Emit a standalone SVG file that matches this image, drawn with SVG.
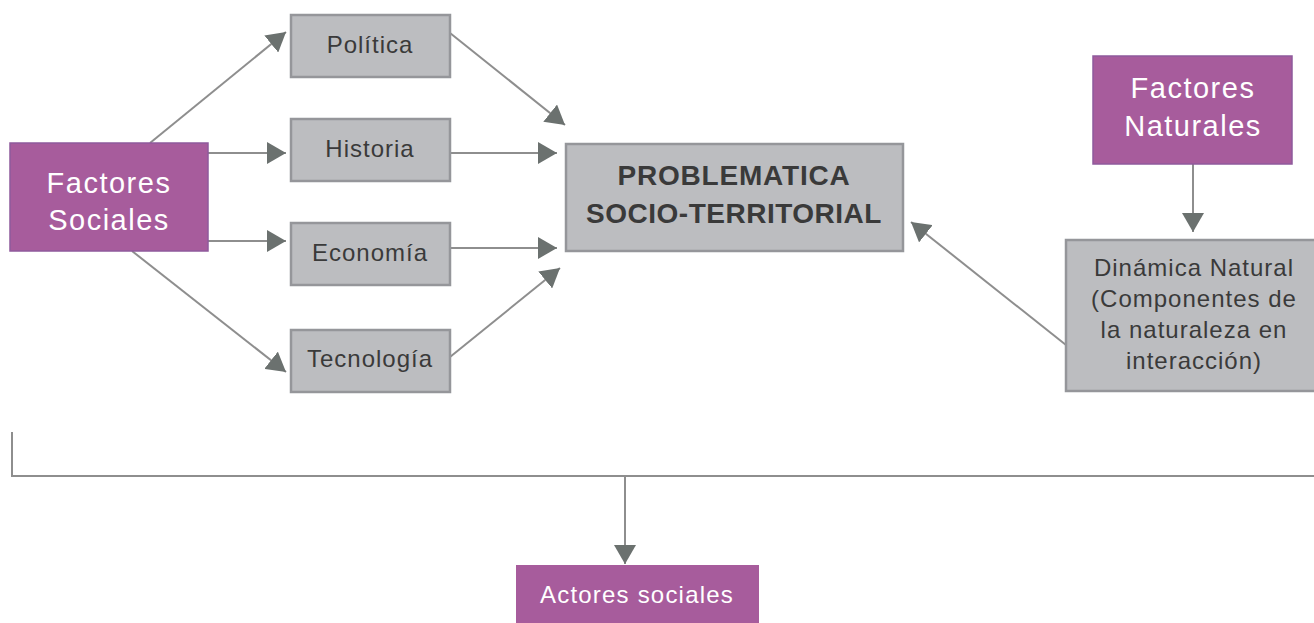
<svg xmlns="http://www.w3.org/2000/svg" width="1314" height="623" viewBox="0 0 1314 623">
<defs>
<marker id="ah" markerUnits="userSpaceOnUse" markerWidth="20" markerHeight="22" refX="19" refY="11" orient="auto" viewBox="0 0 20 22">
<path d="M0,0 L19,11 L0,22 z" fill="#6b716f"/>
</marker>
<style>
.pur{fill:#a75c9c;stroke:#8f5a9c;stroke-width:1.5}
.gry{fill:#bcbdc0;stroke:#95969a;stroke-width:2.5}
.wt{fill:#ffffff;font-family:"Liberation Sans",Arial,sans-serif;text-anchor:middle}
.dt{fill:#3a3a3a;font-family:"Liberation Sans",Arial,sans-serif;text-anchor:middle}
.ln{stroke:#8e8e8e;stroke-width:2;fill:none}
</style>
</defs>
<rect width="1314" height="623" fill="#ffffff"/>
<g id="connectors">
<line class="ln" x1="150" y1="143" x2="286" y2="32" marker-end="url(#ah)"/>
<line class="ln" x1="208" y1="153" x2="286" y2="153" marker-end="url(#ah)"/>
<line class="ln" x1="208" y1="241" x2="286" y2="241" marker-end="url(#ah)"/>
<line class="ln" x1="132" y1="251" x2="286" y2="372" marker-end="url(#ah)"/>
<line class="ln" x1="450" y1="33" x2="565" y2="125" marker-end="url(#ah)"/>
<line class="ln" x1="450" y1="153" x2="557" y2="153" marker-end="url(#ah)"/>
<line class="ln" x1="450" y1="248" x2="557" y2="248" marker-end="url(#ah)"/>
<line class="ln" x1="450" y1="357" x2="560" y2="268" marker-end="url(#ah)"/>
<line class="ln" x1="1193" y1="164" x2="1193" y2="232" marker-end="url(#ah)"/>
<line class="ln" x1="1066" y1="345" x2="911" y2="222" marker-end="url(#ah)"/>
<polyline class="ln" points="12,432 12,476 1314,476" stroke-width="2.5"/>
<line class="ln" x1="625" y1="476" x2="625" y2="564" marker-end="url(#ah)"/>
</g>
<g id="factores-sociales">
<rect class="pur" x="10" y="143" width="198" height="108"/>
<text class="wt" x="109" y="193" font-size="29" letter-spacing="1.5">Factores</text>
<text class="wt" x="109" y="230" font-size="29" letter-spacing="1.5">Sociales</text>
</g>
<g id="politica">
<rect class="gry" x="291" y="15" width="159" height="62"/>
<text class="dt" x="370" y="53" font-size="24" letter-spacing="1">Política</text>
</g>
<g id="historia">
<rect class="gry" x="291" y="119" width="159" height="62"/>
<text class="dt" x="370" y="157" font-size="24" letter-spacing="1">Historia</text>
</g>
<g id="economia">
<rect class="gry" x="291" y="223" width="159" height="62"/>
<text class="dt" x="370" y="261" font-size="24" letter-spacing="1">Economía</text>
</g>
<g id="tecnologia">
<rect class="gry" x="291" y="330" width="159" height="62"/>
<text class="dt" x="370" y="367" font-size="24" letter-spacing="1">Tecnología</text>
</g>
<g id="problematica">
<rect class="gry" x="566" y="144" width="337" height="107"/>
<text class="dt" x="734" y="185" font-size="28" font-weight="bold" letter-spacing="0.8">PROBLEMATICA</text>
<text class="dt" x="734" y="223" font-size="28" font-weight="bold" letter-spacing="0.5">SOCIO-TERRITORIAL</text>
</g>
<g id="factores-naturales">
<rect class="pur" x="1093" y="56" width="199" height="108"/>
<text class="wt" x="1193" y="98" font-size="29" letter-spacing="1.5">Factores</text>
<text class="wt" x="1193" y="136" font-size="29" letter-spacing="1.5">Naturales</text>
</g>
<g id="dinamica-natural">
<rect class="gry" x="1066" y="240" width="256" height="151"/>
<text class="dt" x="1194" y="276" font-size="24" letter-spacing="1">Dinámica Natural</text>
<text class="dt" x="1194" y="307" font-size="24" letter-spacing="1">(Componentes de</text>
<text class="dt" x="1194" y="338" font-size="24" letter-spacing="1">la naturaleza en</text>
<text class="dt" x="1194" y="369" font-size="24" letter-spacing="1">interacción)</text>
</g>
<g id="actores-sociales">
<rect x="516" y="565" width="243" height="58" fill="#a75c9c"/>
<text class="wt" x="637" y="603" font-size="24" letter-spacing="1.2">Actores sociales</text>
</g>
</svg>
